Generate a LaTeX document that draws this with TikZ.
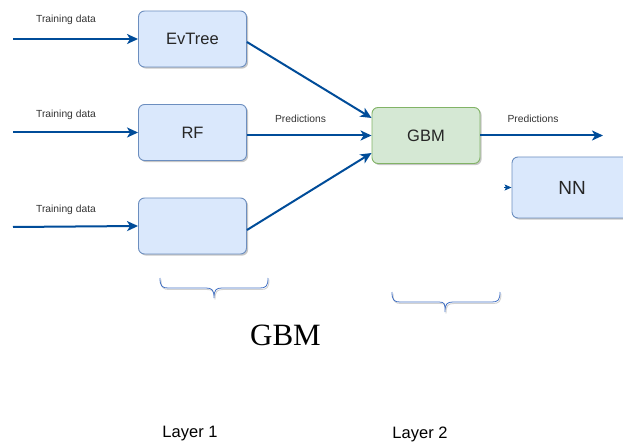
\documentclass[tikz,border=0pt]{standalone}
\usepackage{fontspec}
\setmainfont{Liberation Sans}
\newfontfamily\serifgbm{Liberation Serif}
\usetikzlibrary{arrows.meta,shadows}
\definecolor{flowblue}{RGB}{0,76,153}
\definecolor{boxfill}{HTML}{DAE8FC}
\definecolor{boxline}{HTML}{6C8EBF}
\definecolor{gfill}{HTML}{D5E8D4}
\definecolor{gline}{HTML}{82B366}
\definecolor{bracecol}{RGB}{68,114,196}
\tikzset{
  model/.style={draw=boxline, fill=boxfill, line width=0.9pt, rounded corners=6pt,
    minimum width=108pt, minimum height=56pt, inner sep=0pt,
    font=\fontsize{16.5}{18}\selectfont, text=black!85,
    drop shadow={shadow xshift=1.6pt, shadow yshift=-1.6pt, fill=black, opacity=0.22}},
  meta/.style={model, draw=gline, fill=gfill},
  flow/.style={draw=flowblue, line width=2pt, -{Stealth[length=11pt,width=10pt,inset=3pt]}},
  small/.style={font=\fontsize{10.3}{12}\selectfont, text=black!80, inner sep=0pt},
  layer/.style={font=\fontsize{16.5}{18}\selectfont, text=black, inner sep=0pt},
  bracestroke/.style={draw=bracecol, line width=0.8pt},
  braceshade/.style={draw=black!18, line width=0.9pt}
}
\begin{document}
\begin{tikzpicture}[x=1pt, y=-1pt]
\useasboundingbox (0,0) rectangle (623,446);

% layer 1 models
\node[model] (ev) at (192.5,39) {EvTree};
\node[model] (rf) at (192.5,132.5) {RF};
\node[model] (m3) at (192.5,226) {};

% layer 2 models
\node[meta] (gbm) at (426,135.5) {GBM};
\node[model, minimum width=120pt, minimum height=61pt, font=\fontsize{19}{21}\selectfont] (nn) at (572,187.5) {NN};

% training inputs
\coordinate (in1) at (13,39);
\coordinate (in2) at (13,132.5);
\coordinate (in3) at (13,227);
\draw[flow] (in1) -- (ev.west);
\draw[flow] (in2) -- (rf.west);
\draw[flow] (in3) -- (m3.west);
\node[small] (t1) at (66,20) {Training data};
\node[small] (t2) at (66,115) {Training data};
\node[small] (t3) at (66,210) {Training data};

% predictions into the meta model
\draw[flow] (ev.east |- 0,42) -- (gbm.west |- 0,118);
\draw[flow] (rf.east |- gbm.west) -- (gbm.west);
\draw[flow] (m3.east |- 0,230) -- (gbm.west |- 0,153);
\node[small] (p1) at (300.5,119) {Predictions};

% meta model output
\coordinate (out) at (603,135.5);
\draw[flow] (gbm.east) -- (out);
\node[small] (p2) at (533,118.5) {Predictions};

% stub arrow into NN
\coordinate (nnin) at (504,187.5);
\draw[flow, -{Stealth[length=7pt,width=6pt,inset=1.5pt]}, line width=0.8pt] (nnin) -- (nn.west);

% braces under the layers
\draw[braceshade] (161,279.5) .. controls (161,287.5) and (163,289.5) .. (169,289.5) -- (207,289.5)
  .. controls (213,289.5) and (215,291.5) .. (215,299.5) .. controls (215,291.5) and (217,289.5) .. (223,289.5)
  -- (261,289.5) .. controls (267,289.5) and (269,287.5) .. (269,279.5);
\draw[bracestroke] (160,278) .. controls (160,286) and (162,288) .. (168,288) -- (206,288)
  .. controls (212,288) and (214,290) .. (214,298) .. controls (214,290) and (216,288) .. (222,288)
  -- (260,288) .. controls (266,288) and (268,286) .. (268,278);

\draw[braceshade] (393,293.5) .. controls (393,301.5) and (395,303.5) .. (401,303.5) -- (440,303.5)
  .. controls (446,303.5) and (446,305.5) .. (446,313.5) .. controls (446,305.5) and (448,303.5) .. (454,303.5)
  -- (493,303.5) .. controls (499,303.5) and (501,301.5) .. (501,293.5);
\draw[bracestroke] (392,292) .. controls (392,300) and (394,302) .. (400,302) -- (439,302)
  .. controls (445,302) and (445,304) .. (445,312) .. controls (445,304) and (447,302) .. (453,302)
  -- (492,302) .. controls (498,302) and (500,300) .. (500,292);

% captions
\node[inner sep=0pt, font=\serifgbm\fontsize{31}{34}\selectfont] (cap) at (285.5,335) {GBM};
\node[layer] (l1) at (190,434) {Layer 1};
\node[layer] (l2) at (420,434) {Layer 2};
\end{tikzpicture}
\end{document}
